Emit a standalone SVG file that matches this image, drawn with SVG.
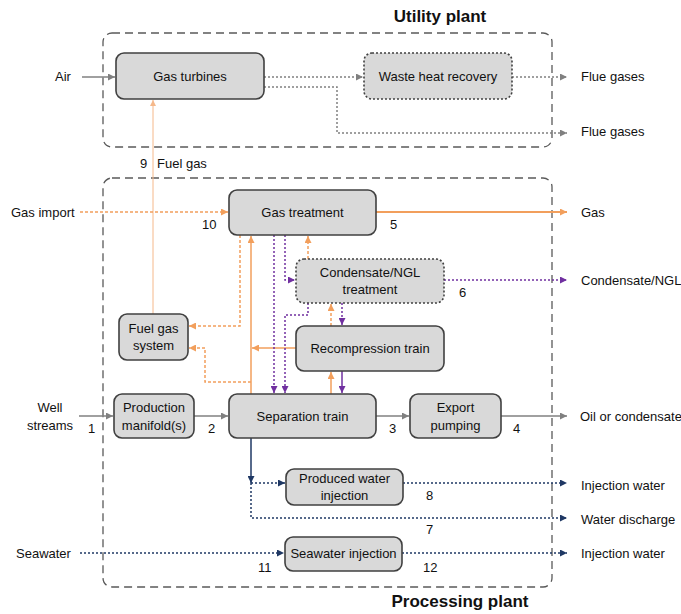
<svg xmlns="http://www.w3.org/2000/svg" width="681" height="614" viewBox="0 0 681 614">
<defs>
<style>
text{font-family:"Liberation Sans",Arial,sans-serif;font-size:13px;fill:#111111}
.t{text-anchor:middle}
.title{font-size:17px;font-weight:bold;text-anchor:middle}
.cont{fill:none;stroke:#595959;stroke-width:1.3;stroke-dasharray:8 5}
.box{fill:#d9d9d9;stroke:#404040;stroke-width:1.6}
.dbox{fill:#d9d9d9;stroke:#404040;stroke-width:1.6;stroke-dasharray:2 2}
.c{fill:none;stroke-width:1.5}
.gs{stroke:#808080;marker-end:url(#ag)}
.gd{stroke:#808080;stroke-dasharray:2 2;marker-end:url(#ag)}
.os{stroke:#F29F5C;marker-end:url(#ao)}
.od{stroke:#F29F5C;stroke-dasharray:3 2;marker-end:url(#ao)}
.ps{stroke:#7030A0;marker-end:url(#ap)}
.pd{stroke:#7030A0;stroke-dasharray:2 2;marker-end:url(#ap)}
.ns{stroke:#1F3864;marker-end:url(#an)}
.nd{stroke:#1F3864;stroke-dasharray:2 2;marker-end:url(#an)}
</style>
<marker id="ag" viewBox="0 0 8 8" refX="8" refY="4" markerWidth="7" markerHeight="7" markerUnits="userSpaceOnUse" orient="auto"><path d="M0,0 L8,4 L0,8 Z" fill="#808080"/></marker>
<marker id="ao" viewBox="0 0 8 8" refX="8" refY="4" markerWidth="7" markerHeight="7" markerUnits="userSpaceOnUse" orient="auto"><path d="M0,0 L8,4 L0,8 Z" fill="#F29F5C"/></marker>
<marker id="al" viewBox="0 0 8 8" refX="8" refY="4" markerWidth="6" markerHeight="6" markerUnits="userSpaceOnUse" orient="auto"><path d="M0,0 L8,4 L0,8 Z" fill="#F5B88A"/></marker>
<marker id="ap" viewBox="0 0 8 8" refX="8" refY="4" markerWidth="7" markerHeight="7" markerUnits="userSpaceOnUse" orient="auto"><path d="M0,0 L8,4 L0,8 Z" fill="#7030A0"/></marker>
<marker id="an" viewBox="0 0 8 8" refX="8" refY="4" markerWidth="7" markerHeight="7" markerUnits="userSpaceOnUse" orient="auto"><path d="M0,0 L8,4 L0,8 Z" fill="#1F3864"/></marker>
</defs>
<rect width="681" height="614" fill="#ffffff"/>

<g id="utility-plant">
<rect class="cont" x="103" y="33" width="449" height="114" rx="9"/>
<text class="title" x="440" y="22">Utility plant</text>
</g>
<g id="processing-plant">
<rect class="cont" x="103" y="178" width="449" height="409" rx="9"/>
<text class="title" x="460" y="607">Processing plant</text>
</g>

<g id="connectors">
<path class="c gs" d="M82,77 H115"/>
<path class="c gs" d="M79,416 H113"/>
<path class="c gs" d="M194,416 H228"/>
<path class="c gs" d="M376,416 H409"/>
<path class="c gs" d="M501,416 H567"/>
<path class="c gd" d="M264,77 H363"/>
<path class="c gd" d="M512,77 H567"/>
<path class="c gd" d="M264,87 H337 V133 H567"/>

<path class="c" style="stroke:#F5B88A;stroke-width:1;marker-end:url(#al)" d="M153,314 V100"/>
<path class="c od" d="M80,212 H228"/>
<path class="c os" style="stroke-width:2" d="M376,212 H567"/>
<path class="c od" d="M240,235 V326 H189"/>
<path class="c os" d="M251,394 V236"/>
<path class="c os" d="M296,348 H252"/>
<path class="c od" d="M251,382 H205 V348 H189"/>
<path class="c od" d="M308,259 V236"/>
<path class="c od" d="M331,326 V304"/>
<path class="c os" d="M331,394 V372"/>

<path class="c pd" d="M274,235 V393"/>
<path class="c pd" d="M285,235 V280 H295"/>
<path class="c pd" d="M308,303 V315 H285 V393"/>
<path class="c pd" d="M342,303 V325"/>
<path class="c ps" d="M342,371 V393"/>
<path class="c pd" d="M444,280 H567"/>

<path class="c ns" d="M251,438 V483"/>
<path class="c nd" d="M251,483 H285"/>
<path class="c nd" d="M403,483 H567"/>
<path class="c nd" d="M251,483 V518 H567"/>
<path class="c nd" d="M80,553 H284"/>
<path class="c nd" d="M402,553 H567"/>
</g>

<g id="gas-turbines">
<rect class="box" x="116" y="53" width="148" height="46" rx="8"/>
<text class="t" x="190" y="81">Gas turbines</text>
</g>
<g id="waste-heat-recovery">
<rect class="dbox" x="364" y="53" width="148" height="46" rx="8"/>
<text class="t" x="438" y="81">Waste heat recovery</text>
</g>
<g id="gas-treatment">
<rect class="box" x="229" y="190" width="147" height="45" rx="8"/>
<text class="t" x="302.5" y="217">Gas treatment</text>
</g>
<g id="condensate-ngl-treatment">
<rect class="dbox" x="296" y="259" width="148" height="44" rx="8"/>
<text class="t" x="370" y="277">Condensate/NGL</text>
<text class="t" x="370" y="294">treatment</text>
</g>
<g id="fuel-gas-system">
<rect class="box" x="119" y="314" width="69" height="46" rx="8"/>
<text class="t" x="153.5" y="333">Fuel gas</text>
<text class="t" x="153.5" y="350">system</text>
</g>
<g id="recompression-train">
<rect class="box" x="296" y="326" width="148" height="45" rx="8"/>
<text class="t" x="370" y="353">Recompression train</text>
</g>
<g id="production-manifolds">
<rect class="box" x="114" y="394" width="80" height="44" rx="8"/>
<text class="t" x="154" y="412">Production</text>
<text class="t" x="154" y="430">manifold(s)</text>
</g>
<g id="separation-train">
<rect class="box" x="229" y="394" width="147" height="44" rx="8"/>
<text class="t" x="302.5" y="421">Separation train</text>
</g>
<g id="export-pumping">
<rect class="box" x="410" y="394" width="91" height="44" rx="8"/>
<text class="t" x="455.5" y="412">Export</text>
<text class="t" x="455.5" y="430">pumping</text>
</g>
<g id="produced-water-injection">
<rect class="box" x="286" y="469" width="117" height="36" rx="8"/>
<text class="t" x="344.5" y="483">Produced water</text>
<text class="t" x="344.5" y="500">injection</text>
</g>
<g id="seawater-injection">
<rect class="box" x="285" y="537" width="117" height="34" rx="8"/>
<text class="t" x="343.5" y="558">Seawater injection</text>
</g>

<g id="labels">
<text x="55" y="81">Air</text>
<text x="581" y="81">Flue gases</text>
<text x="581" y="136">Flue gases</text>
<text x="140" y="168">9</text>
<text x="157" y="168">Fuel gas</text>
<text x="11" y="217">Gas import</text>
<text x="202" y="229">10</text>
<text x="581" y="217">Gas</text>
<text x="390" y="229">5</text>
<text x="581" y="285">Condensate/NGL</text>
<text x="459" y="297">6</text>
<text class="t" x="50" y="412">Well</text>
<text class="t" x="50" y="430">streams</text>
<text x="88" y="433">1</text>
<text x="208" y="433">2</text>
<text x="389" y="433">3</text>
<text x="513" y="433">4</text>
<text x="580" y="421">Oil or condensate</text>
<text x="581" y="490">Injection water</text>
<text x="426" y="500">8</text>
<text x="581" y="524">Water discharge</text>
<text x="426" y="534">7</text>
<text x="16" y="558">Seawater</text>
<text x="258" y="572">11</text>
<text x="423" y="572">12</text>
<text x="581" y="558">Injection water</text>
</g>
</svg>
